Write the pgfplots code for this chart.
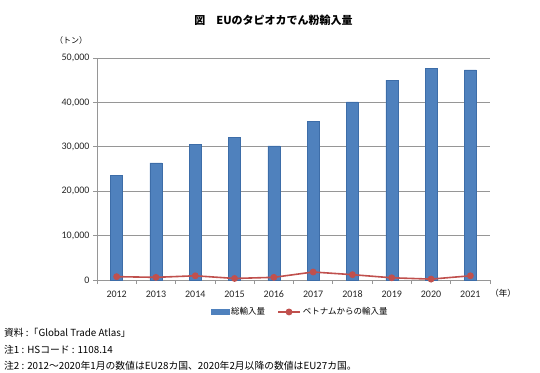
\documentclass[border=0pt]{standalone}
\usepackage{pgfplots}
\pgfplotsset{compat=1.18}
\usepackage{fontspec}
\setmainfont{Noto Sans CJK JP}
\newfontfamily\numfont{Carlito}
\definecolor{barblue}{HTML}{4F81BD}
\definecolor{baredge}{HTML}{3D6DA8}
\definecolor{linered}{HTML}{C0504D}
\definecolor{axgray}{HTML}{969696}
\begin{document}
\begin{tikzpicture}[x=1pt,y=1pt]
\path[use as bounding box] (0,0) rectangle (540,372);
\begin{axis}[
  at={(97pt,92pt)}, anchor=south west,
  scale only axis, width=393pt, height=222pt,
  xmin=-0.5, xmax=9.5, ymin=0, ymax=50000,
  axis x line*=bottom, axis y line*=left,
  axis line style={axgray, line width=0.8pt, -},
  tick align=outside,
  xtick={0,...,9}, xticklabels={2012,2013,2014,2015,2016,2017,2018,2019,2020,2021},
  major x tick style={draw=none},
  minor xtick={-0.5,0.5,...,9.5},
  minor x tick style={axgray, line width=0.8pt},
  minor tick length=4pt, major tick length=4pt,
  ytick={0,10000,...,50000},
  major y tick style={axgray, line width=0.8pt},
  ymajorgrids, major grid style={axgray, line width=0.7pt},
  scaled y ticks=false,
  /pgf/number format/assume math mode=true,
  yticklabel style={/pgf/number format/.cd, fixed, 1000 sep={,}},
  ticklabel style={font=\numfont\fontsize{10}{12}\selectfont, text=black!85},
  xticklabel style={anchor=north, text height=7pt, text depth=0pt, yshift=-3pt},
  legend style={at={(axis description cs:0.517,-0.144)}, anchor=center, draw=none,
    legend columns=2, font=\fontsize{8.5}{10}\selectfont,
    /tikz/every even column/.append style={column sep=10pt}},
]
\addplot[ybar, bar width=12pt, fill=barblue, draw=baredge, line width=0.4pt,
  legend image code/.code={\fill[barblue] (0pt,-2.5pt) rectangle (18pt,2.5pt);}]
  coordinates {(0,23600) (1,26400) (2,30600) (3,32200) (4,30200) (5,35800) (6,40100) (7,45000) (8,47700) (9,47300)};
\addlegendentry{総輸入量}
\addplot[linered, line width=1.6pt, mark=*, mark size=2.6pt, mark options={fill=linered, draw=linered},
  legend image code/.code={\draw[mark repeat=2,mark phase=2] plot coordinates {(0pt,0pt) (11pt,0pt) (22pt,0pt)};}]
  coordinates {(0,750) (1,600) (2,950) (3,350) (4,600) (5,1800) (6,1200) (7,500) (8,200) (9,950)};
\addlegendentry{ベトナムからの輸入量}
\end{axis}
\node[font=\bfseries\fontsize{11}{13}\selectfont] at (273.5,352) {図　EUのタピオカでん粉輸入量};
\node[font=\fontsize{8}{10}\selectfont] at (71,332) {（トン）};
\node[font=\fontsize{8.5}{10}\selectfont] at (503,79) {（年）};
\node[anchor=west, font=\fontsize{9.8}{11}\selectfont, inner sep=0pt] at (4,39) {資料 :「Global Trade Atlas」};
\node[anchor=west, font=\fontsize{9.8}{11}\selectfont, inner sep=0pt] at (4,22) {注1 : HSコード : 1108.14};
\node[anchor=west, font=\fontsize{9.8}{11}\selectfont, inner sep=0pt] at (4,6) {注2 : 2012～2020年1月の数値はEU28カ国、2020年2月以降の数値はEU27カ国。};
\end{tikzpicture}
\end{document}
